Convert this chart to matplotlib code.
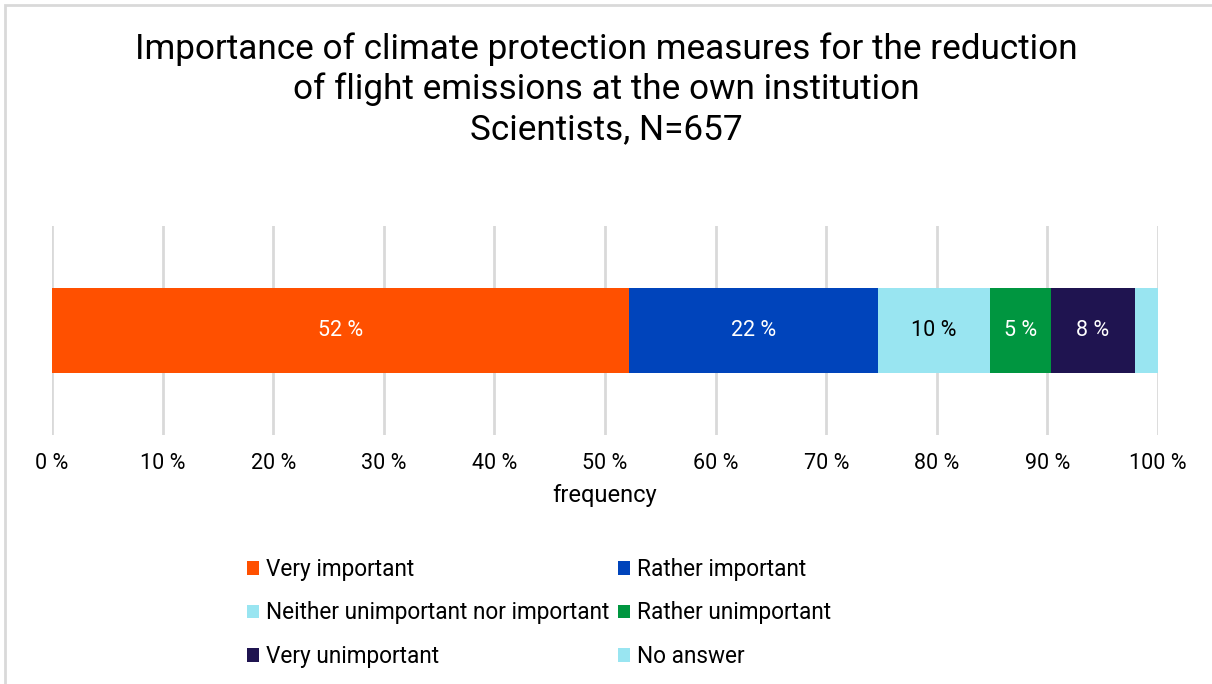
import matplotlib
matplotlib.use('Agg')
import matplotlib.pyplot as plt
from matplotlib.patches import Rectangle
import numpy as np

plt.rcParams['font.family'] = ['Roboto', 'DejaVu Sans']

# data (percent of respondents)
categories = ['Very important', 'Rather important', 'Neither unimportant nor important',
              'Rather unimportant', 'Very unimportant', 'No answer']
values = [52.2, 22.5, 10.1, 5.5, 7.6, 2.1]
bar_labels = ['52 %', '22 %', '10 %', '5 %', '8 %', '']
colors = ['#FF5000', '#0044BB', '#99E5F1', '#009640', '#1F1450', '#99E5F1']
label_colors = ['white', 'white', 'black', 'white', 'white', 'white']
ticks = np.arange(0, 101, 10)
tick_labels = ['%d %%' % t for t in ticks]

fig = plt.figure(figsize=(12.12, 6.84), dpi=100)
# light frame round the chart area
fig.patches.append(Rectangle((5 / 1212, -0.1), 1.2, (684 - 5) / 684 + 0.1, transform=fig.transFigure,
                             fill=False, edgecolor='#D9D9D9', linewidth=2))

ax = fig.add_axes([52 / 1212, 1 - 435 / 684, (1158 - 52) / 1212, (435 - 226) / 684])

left = 0
handles = []
for val, lab, col, lc, cat in zip(values, bar_labels, colors, label_colors, categories):
    b = ax.barh(0, val, left=left, height=0.402, color=col, label=cat, zorder=3)
    handles.append(b)
    if lab:
        ax.text(left + val / 2, 0, lab, ha='center', va='center', color=lc, fontsize=15.5, zorder=4)
    left += val

ax.set_xlim(0, 100)
ax.set_ylim(-0.5, 0.5)
ax.set_xticks(ticks)
ax.set_xticklabels(tick_labels, fontsize=15.5)
ax.set_yticks([])
ax.tick_params(axis='x', length=0, pad=13)
ax.grid(axis='x', color='#D9D9D9', linewidth=2, zorder=0)
for s in ax.spines.values():
    s.set_visible(False)
ax.set_xlabel('frequency', fontsize=17, labelpad=7)

fig.text(0.5, 1 - 89 / 684, 'Importance of climate protection measures for the reduction\n'
         'of flight emissions at the own institution\nScientists, N=657',
         ha='center', va='center', fontsize=25.3, linespacing=1.25)

# legend in row order
order = [0, 2, 4, 1, 3, 5]
leg = fig.legend([handles[i] for i in order], [categories[i] for i in order], ncol=2,
                 loc='upper left', bbox_to_anchor=(247 / 1212, 1 - 558 / 684), frameon=False,
                 borderpad=0, borderaxespad=0,
                 fontsize=16.3, handlelength=0.55, handleheight=0.55, handletextpad=0.3,
                 columnspacing=0.35, labelspacing=0.9)

fig.savefig('out.png', dpi=100)
